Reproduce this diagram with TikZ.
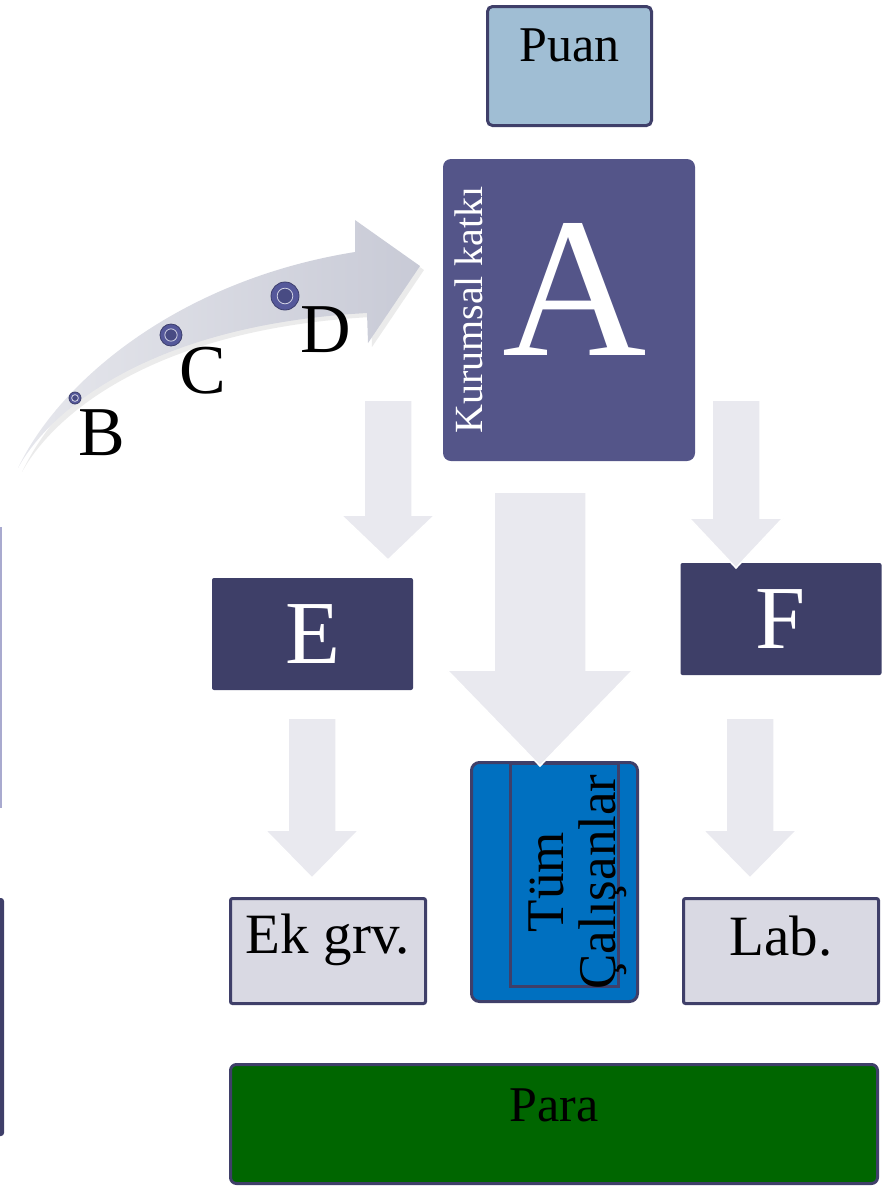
\documentclass[tikz,border=0pt]{standalone}
\usepackage{fontspec}
\setmainfont{Liberation Serif}
\usetikzlibrary{positioning}

\definecolor{frame}{RGB}{63,63,105}
\definecolor{puanblue}{RGB}{160,190,212}
\definecolor{kurumpurple}{RGB}{84,85,137}
\definecolor{darknavy}{RGB}{62,63,104}
\definecolor{lightlilac}{RGB}{217,217,227}
\definecolor{tumblue}{RGB}{0,112,192}
\definecolor{paragreen}{RGB}{0,102,0}
\definecolor{blockgray}{RGB}{233,233,239}
\definecolor{bendgray}{RGB}{200,202,214}
\definecolor{dotblue}{RGB}{85,88,154}
\definecolor{edgelilac}{RGB}{169,170,207}

\newcommand{\blockdown}[6]{\fill[blockgray, draw=white, line width=1.5pt] (#1-#5,#2) -- (#1+#5,#2) -- (#1+#5,#3) -- (#1+#6,#3) -- (#1,#4) -- (#1-#6,#3) -- (#1-#5,#3) -- cycle;}
\newcommand{\bendpath}{(18,468) .. controls (60,380) and (180,280) .. (355,252) -- (355,220) -- (420,266) -- (368,343) -- (367,313) .. controls (150,325) and (50,410) .. (18,468) -- cycle}

\begin{document}
\begin{tikzpicture}[
        x=1pt, y=-1pt,
        box/.style={rectangle, draw=frame, line width=3pt, inner sep=0pt},
        puanbox/.style={box, fill=puanblue, rounded corners=5pt, minimum width=164pt, minimum height=119pt, font=\fontsize{50}{54}\selectfont},
        kurumbox/.style={rectangle, fill=kurumpurple, rounded corners=8pt, inner sep=0pt, minimum width=252pt, minimum height=302pt, text=white, font=\fontsize{200}{200}\selectfont},
        darkbox/.style={rectangle, fill=darknavy, rounded corners=2pt, inner sep=0pt, minimum width=201pt, minimum height=112pt, text=white, font=\fontsize{90}{90}\selectfont},
        lightbox/.style={box, fill=lightlilac, rounded corners=2pt, minimum width=195pt, minimum height=105pt, font=\fontsize{57}{60}\selectfont},
        tumbox/.style={box, fill=tumblue, rounded corners=8pt, minimum width=166pt, minimum height=239pt},
        innerbox/.style={box, minimum width=108pt, minimum height=223pt},
        parabox/.style={box, fill=paragreen, rounded corners=6pt, minimum width=647pt, minimum height=119pt, font=\fontsize{50}{54}\selectfont},
        ringdot/.style={circle, fill=dotblue, draw=dotblue!70!black, line width=0.8pt, inner sep=0pt, minimum size=#1,
            path picture={\draw[white!75!dotblue, line width=0.8pt, fill=dotblue!85!black] (path picture bounding box.center) circle[radius=0.28*#1];}},
        letter/.style={anchor=base, inner sep=0pt, font=\fontsize{70}{70}\selectfont}
    ]
    \useasboundingbox (0,0) rectangle (883,1187);

    \draw[edgelilac, line width=2pt] (0.8,527) -- (0.8,808);
    \fill[frame, rounded corners=3pt] (-20,898) rectangle (4,1136);

    \fill[black, opacity=0.08, shift={(4,4)}] \bendpath;
    \shade[left color=bendgray!45!white, right color=bendgray] \bendpath;

    \node[ringdot=12pt] (dotB) at (75,398) {};
    \node[ringdot=22pt] (dotC) at (171,335) {};
    \node[ringdot=28pt] (dotD) at (285,296) {};
    \node[letter] (labB) at (102,455) {B};
    \node[letter] (labC) at (203,393) {C};
    \node[letter] (labD) at (326,352) {D};

    \node[puanbox, text depth=41pt] (puan) at (569.5,66) {Puan};
    \node[kurumbox, text depth=42pt] (kurum) at (569,310) {\hspace{12pt}A};
    \node[rotate=90, text=white, inner sep=0pt, font=\fontsize{40}{40}\selectfont] (katki) at (469,310) {Kurumsal katkı};

    \node[darkbox] (boxE) at (312.5,634) {E};
    \node[darkbox] (boxF) at (781,619) {F};

    \node[lightbox, text depth=35pt] (ekgrv) at (328,951) {Ek grv.};
    \node[lightbox, text depth=31pt] (lab) at (781,951) {Lab.};

    \node[tumbox] (tum) at (554.5,882) {};
    \node[innerbox] (tumin) at (564.5,875) {};
    \node[rotate=90, align=center, inner sep=0pt, font=\fontsize{53}{52}\selectfont] (tumtxt) at (578,882) {Tüm\\Çalışanlar};

    \node[parabox, text depth=37pt] (para) at (554,1124) {Para};

    \blockdown{388}{400}{515}{560}{24}{47}
    \blockdown{736}{400}{518}{568}{24}{47}
    \blockdown{540}{492}{670}{766}{46}{93}
    \blockdown{312}{718}{830}{878}{24}{47}
    \blockdown{750}{718}{830}{878}{24}{47}
\end{tikzpicture}
\end{document}
